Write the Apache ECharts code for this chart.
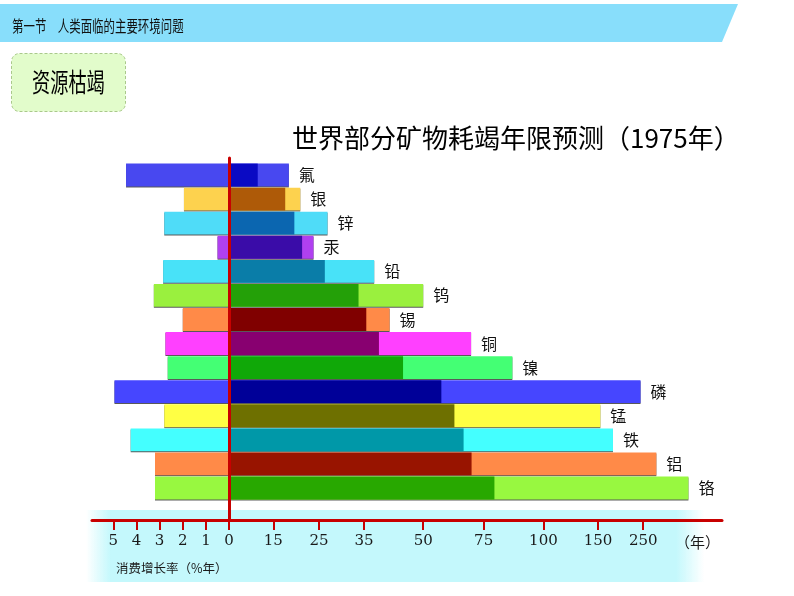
<!DOCTYPE html>
<html><head><meta charset="utf-8">
<script src="https://cdn.jsdelivr.net/npm/echarts@6/dist/echarts.min.js"></script>
<style>html,body{margin:0;padding:0;background:#fff}#chart{width:794px;height:596px}</style>
</head><body><div id="chart"></div>
<script>
// ---------------- data ----------------
const minerals = ['氟','银','锌','汞','铅','钨','锡','铜','镍','磷','锰','铁','铝','铬'];
// consumption growth rate (% per year), drawn to the left of 0
const growthRate = [4.45, 1.95, 2.8, 0.5, 2.85, 3.25, 2.0, 2.75, 2.65, 4.95, 2.8, 4.25, 3.2, 3.2];
// depletion years at growing consumption (dark part)
const depletionYears = [9.7, 17.6, 19.6, 21.3, 26.3, 33.8, 35.6, 38.8, 44.9, 57.5, 62.9, 66.7, 70, 79.5];
// depletion years at constant consumption (full light bar)
const reserveYears = [18.4, 20.9, 26.9, 23.8, 37.6, 50, 41.5, 69.8, 87, 244, 155, 183, 279, 350];
// tick labels
const rateTickLabels = [5, 4, 3, 2, 1, 0];
const yearTickLabels = [0, 15, 25, 35, 50, 75, 100, 150, 250];

// ---------------- scale (illustrative non-linear year scale) ----------------
// axis units: 1 unit = width of 1 % growth; year ticks sit at these axis units
const yearScaleStops = [0, 1.91, 3.88, 5.82, 8.38, 10.99, 13.57, 15.93, 17.88];
function yearToAxis(y) {
  const t = yearTickLabels, p = yearScaleStops;
  for (let i = 1; i < t.length; i++) {
    if (y <= t[i]) return p[i-1] + (y - t[i-1]) / (t[i] - t[i-1]) * (p[i] - p[i-1]);
  }
  const n = t.length - 1;
  return p[n] + (y - t[n]) / (t[n] - t[n-1]) * (p[n] - p[n-1]);
}
const AX_MIN = -5.92, AX_MAX = 21.28;
const tickValues = rateTickLabels.map(r => -r).concat(yearScaleStops.slice(1));
function tickText(v) {
  if (v <= 1e-9) return String(Math.round(-v));
  for (let i = 0; i < yearScaleStops.length; i++) {
    if (Math.abs(yearScaleStops[i] - v) < 1e-6) return String(yearTickLabels[i]);
  }
  return '';
}

// ---------------- styles ----------------
const lightColors = ['#4848F0','#FDD24E','#4FDCF8','#B040F0','#48E2F8','#9AF03E','#FF8A48',
                     '#FF40FF','#44FF74','#4646FF','#FFFF44','#44FFFF','#FF8A48','#98F840'];
const darkColors  = ['#0A0AC4','#AE5A08','#0B66B0','#3A0CA8','#0A7DA8','#24A008','#800000',
                     '#880070','#10A808','#000098','#6E7000','#0098A8','#981400','#28A800'];
const RED = '#C80000';
const CJK = 'Noto Sans CJK SC';

const chart = echarts.init(document.getElementById('chart'), null, {renderer: 'canvas'});
const barShadow = {shadowColor: 'rgba(0,0,0,0.65)', shadowOffsetY: 1, shadowBlur: 0};

chart.setOption({
  animation: false,
  title: {
    text: '世界部分矿物耗竭年限预测（1975年）',
    left: 287, top: 120,
    textStyle: {fontFamily: CJK, fontSize: 26, fontWeight: 'normal', color: '#000'}
  },
  grid: [
    {left: 92, right: 72, top: 163, height: 337},
    {left: 92, right: 72, top: 158, height: 362},
    {left: 92, right: 72, top: 520, height: 10}
  ],
  xAxis: [
    {gridIndex: 0, type: 'value', min: AX_MIN, max: AX_MAX, show: false},
    {gridIndex: 1, type: 'value', min: AX_MIN, max: AX_MAX, position: 'bottom',
     axisLine: {show: true, onZero: false, lineStyle: {color: RED, width: 3}},
     axisTick: {show: true, length: 5, customValues: tickValues, lineStyle: {color: RED, width: 2}},
     axisLabel: {show: true, customValues: tickValues, formatter: tickText, margin: 14,
                 fontFamily: 'DejaVu Serif', fontSize: 15, color: '#1a1a1a'},
     splitLine: {show: false}, z: 10},
    {gridIndex: 2, type: 'value', min: AX_MIN, max: AX_MAX, position: 'top',
     axisLine: {show: false},
     axisTick: {show: true, length: 5, customValues: tickValues, lineStyle: {color: RED, width: 2}},
     axisLabel: {show: false}, splitLine: {show: false}, z: 10}
  ],
  yAxis: [
    {gridIndex: 0, type: 'category', data: minerals, inverse: true, show: false},
    {gridIndex: 1, type: 'value', min: 0, max: 1, z: 10,
     axisLine: {show: true, onZero: true, lineStyle: {color: RED, width: 3}},
     axisTick: {show: false}, axisLabel: {show: false}, splitLine: {show: false}},
    {gridIndex: 2, type: 'value', show: false}
  ],
  graphic: [
    {type: 'rect', z: -10, shape: {x: 86, y: 510, width: 618, height: 72},
     style: {fill: new echarts.graphic.LinearGradient(0, 0, 1, 0, [
       {offset: 0, color: 'rgba(196,248,252,0)'},
       {offset: 0.04, color: 'rgba(196,248,252,1)'},
       {offset: 0.955, color: 'rgba(196,248,252,1)'},
       {offset: 1, color: 'rgba(196,248,252,0)'}])}},
    {type: 'polygon', z: -10, shape: {points: [[0,4],[738,4],[722,42],[0,42]]},
     style: {fill: '#88DEFB'}},
    {type: 'text', z: 5, x: 12, y: 26, scaleX: 0.715,
     style: {text: '第一节　人类面临的主要环境问题', font: '16px "Noto Sans CJK SC"',
             fill: '#111', verticalAlign: 'middle'}},
    {type: 'rect', z: -10, shape: {x: 11.5, y: 53.5, width: 114, height: 58, r: 8},
     style: {fill: '#E2FCCB', stroke: '#A9C98A', lineWidth: 1, lineDash: [3, 2]}},
    {type: 'text', z: 5, x: 32, y: 82, scaleX: 0.7,
     style: {text: '资源枯竭', font: '26px "Noto Sans CJK SC"', fill: '#000', verticalAlign: 'middle'}},
    {type: 'text', z: 5, x: 675, y: 542,
     style: {text: '（年）', font: '15px "Noto Sans CJK SC"', fill: '#1a1a1a', verticalAlign: 'middle'}},
    {type: 'text', z: 5, x: 116, y: 568,
     style: {text: '消费增长率（%年）', font: '12.5px "Noto Sans CJK SC"', fill: '#1a1a1a', verticalAlign: 'middle'}}
  ],
  series: [
    {name: '消费增长率', type: 'bar', xAxisIndex: 0, yAxisIndex: 0,
     barCategoryGap: '5%', barGap: '-100%',
     data: growthRate.map((r, i) => ({value: -r, itemStyle: Object.assign({color: lightColors[i]}, barShadow)}))},
    {name: '静态耗竭年限', type: 'bar', xAxisIndex: 0, yAxisIndex: 0, barGap: '-100%',
     data: reserveYears.map((y, i) => ({value: yearToAxis(y), itemStyle: Object.assign({color: lightColors[i]}, barShadow)})),
     label: {show: true, position: 'right', distance: 10, formatter: p => minerals[p.dataIndex],
             fontFamily: CJK, fontSize: 16, color: '#111'}},
    {name: '增长耗竭年限', type: 'bar', xAxisIndex: 0, yAxisIndex: 0, barGap: '-100%',
     data: depletionYears.map((y, i) => ({value: yearToAxis(y), itemStyle: {color: darkColors[i]}}))}
  ]
});
</script></body></html>
